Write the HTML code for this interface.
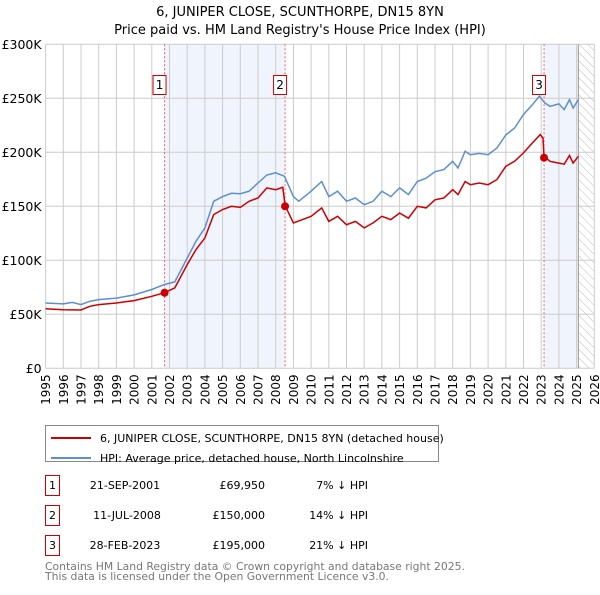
<!DOCTYPE html>
<html><head><meta charset="utf-8"><style>
body{margin:0;background:#fff;font-family:"Liberation Sans","DejaVu Sans",sans-serif;}
svg text{font-family:"DejaVu Sans","Liberation Sans",sans-serif;}
</style></head><body>
<svg id="c" width="600" height="590" xmlns="http://www.w3.org/2000/svg">
<defs><pattern id="hatch" width="6" height="6" patternUnits="userSpaceOnUse" patternTransform="rotate(-45)"><line x1="0" y1="0" x2="0" y2="6" stroke="#bbb" stroke-width="1"/></pattern></defs>
<text x="300" y="16" text-anchor="middle" font-size="13">6, JUNIPER CLOSE, SCUNTHORPE, DN15 8YN</text>
<text x="300" y="34" text-anchor="middle" font-size="13">Price paid vs. HM Land Registry's House Price Index (HPI)</text>
<g id="plot"></g>
<g>
<rect x="45.5" y="425.5" width="393" height="36" fill="#fff" stroke="#888"/>
<line x1="51" y1="438" x2="91" y2="438" stroke="#cc0000" stroke-width="2"/>
<text x="100" y="442" font-size="11">6, JUNIPER CLOSE, SCUNTHORPE, DN15 8YN (detached house)</text>
<line x1="51" y1="458" x2="91" y2="458" stroke="#5b8fd0" stroke-width="2"/>
<text x="100" y="462" font-size="11">HPI: Average price, detached house, North Lincolnshire</text>
</g>
<g font-size="11">
<rect x="45.5" y="475.5" width="14" height="20" fill="#fff" stroke="#cc0000"/><text x="52.5" y="489" text-anchor="middle">1</text>
<text x="125" y="489" text-anchor="middle">21-SEP-2001</text><text x="265" y="489" text-anchor="end">£69,950</text><text x="368" y="489" text-anchor="end">7% ↓ HPI</text>
<rect x="45.5" y="505.5" width="14" height="20" fill="#fff" stroke="#cc0000"/><text x="52.5" y="519" text-anchor="middle">2</text>
<text x="127" y="519" text-anchor="middle">11-JUL-2008</text><text x="265" y="519" text-anchor="end">£150,000</text><text x="368" y="519" text-anchor="end">14% ↓ HPI</text>
<rect x="45.5" y="535.5" width="14" height="20" fill="#fff" stroke="#cc0000"/><text x="52.5" y="549" text-anchor="middle">3</text>
<text x="125" y="549" text-anchor="middle">28-FEB-2023</text><text x="265" y="549" text-anchor="end">£195,000</text><text x="368" y="549" text-anchor="end">21% ↓ HPI</text>
</g>
<text x="45" y="570" font-size="10.8" fill="#777">Contains HM Land Registry data © Crown copyright and database right 2025.</text>
<text x="45" y="580" font-size="10.8" fill="#777">This data is licensed under the Open Government Licence v3.0.</text>
</svg>
<script>
const hpiYears=[1995,1996,1996.5,1997,1997.5,1998,1999,2000,2001,2001.7,2002.3,2003,2003.5,2004,2004.5,2005,2005.5,2006,2006.5,2007,2007.5,2008,2008.5,2009,2009.3,2010,2010.6,2011,2011.5,2012,2012.5,2013,2013.5,2014,2014.5,2015,2015.5,2016,2016.5,2017,2017.5,2018,2018.3,2018.7,2019,2019.5,2020,2020.5,2021,2021.5,2022,2022.5,2022.9,2023.2,2023.5,2024,2024.3,2024.6,2024.8,2025.1];
const hpiValues=[60.5,59.6,61,59,62,63.6,65,68,73,77.5,80,102,117.6,130,154.6,159,162,161.7,164,171.6,179,181,177.8,159,154.6,164,173,159,164,154.6,157.7,151.5,154.6,164,159,167,160.8,173,176,182,184,191.7,185.5,201,197.8,199,197.8,204,216,222.5,235,244,252,245.7,242.6,244.8,239.5,248.8,241,248.8];
const propYears=[1995,1996,1997,1997.5,1998,1999,2000,2001,2001.72,2002.3,2003,2003.5,2004,2004.5,2005,2005.5,2006,2006.5,2007,2007.5,2008,2008.4,2008.53,2009,2010,2010.6,2011,2011.5,2012,2012.5,2013,2013.5,2014,2014.5,2015,2015.5,2016,2016.5,2017,2017.5,2018,2018.3,2018.7,2019,2019.5,2020,2020.5,2021,2021.5,2022,2022.5,2022.95,2023.1,2023.16,2023.5,2024,2024.3,2024.6,2024.8,2025.1];
const propValues=[55.2,54.3,54,57.4,59,60.5,62.7,66.7,70,74.4,96,110,120.7,142.3,147,150,149,154.6,157.7,167,165.4,167.6,150.6,134.6,140.7,148.5,136,140.7,133,136,130,134.6,140.7,137.7,143.8,139,150,148.5,156,157.7,165.4,160.8,173,170,171.6,170,174.7,187,191.7,199.4,208.6,216.4,213,196.3,191.7,190,189,197,190,196.3];
const saleYears=[2001.72,2008.53,2023.16];
const salePrices=[69.95,150,195];
const saleLabels=["1","2","3"];
const yTicks=[0,50,100,150,200,250,300];
const yTickLabels=["£0","£50K","£100K","£150K","£200K","£250K","£300K"];
const dataEnd=2025.1;
const X0=45.6,X1=594.3,Y0=368.3,Y1=44.3;
const xs=y=>X0+(y-1995)/31*(X1-X0);
const ys=v=>Y0-v/300*(Y0-Y1);
const NS="http://www.w3.org/2000/svg";
const g=document.getElementById('plot');
function mk(t,a,p){const e=document.createElementNS(NS,t);for(const k in a)e.setAttribute(k,a[k]);(p||g).appendChild(e);return e;}
let r;
r=mk('rect',{x:xs(saleYears[0]),y:Y1,width:xs(saleYears[1])-xs(saleYears[0]),height:Y0-Y1,fill:'#f0f4fc'});


r=mk('rect',{x:xs(saleYears[2]),y:Y1,width:xs(dataEnd)-xs(saleYears[2]),height:Y0-Y1,fill:'#f0f4fc'});


r=mk('rect',{x:xs(dataEnd),y:Y1,width:X1-xs(dataEnd),height:Y0-Y1,fill:'url(#hatch)'});


for(let yr=1995;yr<=2026;yr++){
 const x=xs(yr);
 const l=mk('line',{x1:x,x2:x,y1:Y1,y2:Y0,stroke:'#ccc','stroke-width':1});
 
 
 const t=mk('text',{x:0,y:0,'font-size':12,'text-anchor':'end',transform:`translate(${x+4.5},${Y0+6}) rotate(-90)`});
 t.textContent=yr;
 
 
}
yTicks.forEach((v,i)=>{
 const y=ys(v);
 const l=mk('line',{x1:X0,x2:X1,y1:y,y2:y,stroke:'#ccc','stroke-width':1});
 
 
 const t=mk('text',{x:X0-4,y:y+4.5,'font-size':12.5,'text-anchor':'end'});
 t.textContent=yTickLabels[i];
 
 
});
r=mk('line',{x1:xs(dataEnd),x2:xs(dataEnd),y1:Y1,y2:Y0,stroke:'#999','stroke-width':1});


saleYears.forEach((s,i)=>{
 const x=xs(s);
 const l=mk('line',{x1:x,x2:x,y1:Y1,y2:Y0,stroke:'#f06060','stroke-width':1,'stroke-dasharray':'2,2'});
 
 
 const b=mk('rect',{x:x-11.5,y:75.5,width:13,height:19,fill:'#fff',stroke:'#cc0000'});
 
 
 const t=mk('text',{x:x-5,y:89,'font-size':12,'text-anchor':'middle'});
 t.textContent=saleLabels[i];
 
 
});
const pth=(yrs,vals)=>yrs.map((y,i)=>(i?'L':'M')+xs(y).toFixed(1)+','+ys(vals[i]).toFixed(1)).join('');
r=mk('path',{d:pth(hpiYears,hpiValues),fill:'none',stroke:'#5b8fd0','stroke-width':1.5});


r=mk('path',{d:pth(propYears,propValues),fill:'none',stroke:'#cc0000','stroke-width':1.5});


saleYears.forEach((s,i)=>{
 const c=mk('circle',{cx:xs(s),cy:ys(salePrices[i]),r:4,fill:'#cc0000'});
 
 
});
</script>
</body></html>
